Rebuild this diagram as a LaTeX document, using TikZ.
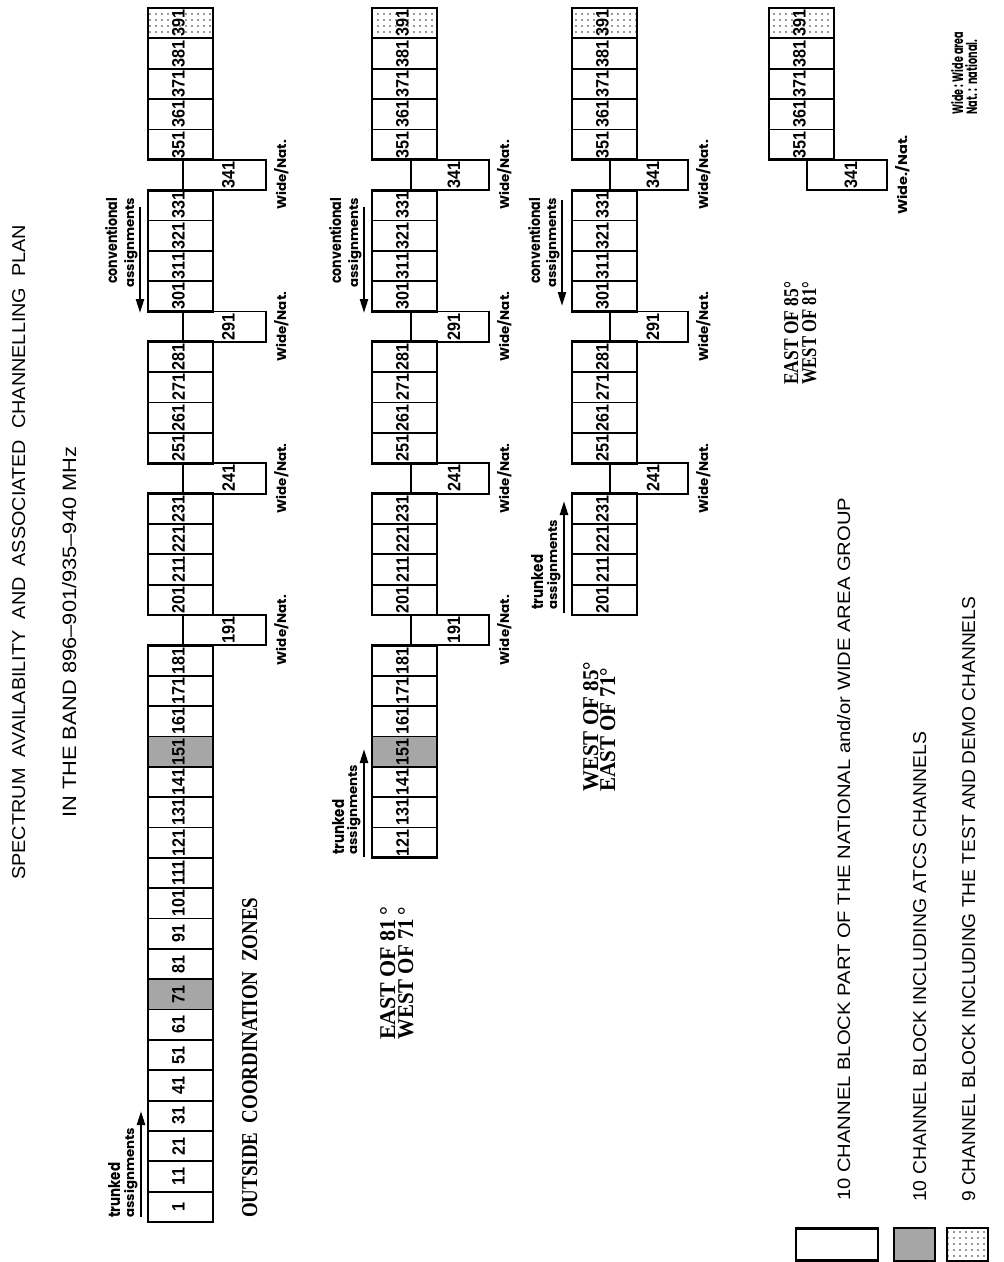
\documentclass[tikz,border=0pt]{standalone}
\usepackage{fontspec}
\usepackage{graphicx}
\setmainfont{Liberation Serif}
\newfontfamily\sansf{Liberation Sans}
\newfontfamily\numff[FakeStretch=0.9]{Liberation Sans}
\newfontfamily\gothf{Poppins}
\usetikzlibrary{patterns.meta,arrows.meta}
\newcommand\fitto[3]{\resizebox{#1pt}{#2pt}{#3}}
\newcommand\fitw[2]{\resizebox{#1pt}{!}{#2}}
\tikzset{
 blk/.style={draw, line width=1.8pt, inner sep=0, outer sep=0, minimum height=30.35pt},
 plain/.style={},
 atcs/.style={fill=black!35},
 demo/.style={pattern={Dots[distance=6pt,radius=0.8pt]}, pattern color=black!80},
 grp/.style={line width=2.8pt},
 num/.style={rotate=90, inner sep=0, font=\numff\bfseries\fontsize{18}{18}\selectfont},
 wn/.style={rotate=90, inner sep=0, anchor=base, font=\gothf\bfseries\fontsize{14}{14}\selectfont},
 lab/.style={rotate=90, inner sep=0, anchor=base west},
 glab/.style={lab, font=\gothf\bfseries\fontsize{14}{14}\selectfont},
 arr/.style={line width=2.4pt, -{Triangle[length=14pt,width=8pt]}},
 leg/.style={draw, line width=2.2pt, inner sep=0},
}
\newcommand\rowblocks[8]{%
 \foreach \k in {#5}{%
   \pgfmathsetmacro\yc{1222-\k*30.35-15.175}%
   \pgfmathtruncatemacro\ch{10*\k+1}%
   \def\st{plain}%
   \ifnum\k=7 \def\st{atcs}\fi
   \ifnum\k=15 \def\st{atcs}\fi
   \ifnum\k=39 \def\st{demo}\fi
   \node[blk,\st,minimum width=65pt] (#1b\ch) at ({#2+32.5},\yc) {};
   \node[num] (#1n\ch) at ({#2+30.5},\yc) {\ch};
 }%
 \foreach \k in {#6}{%
   \pgfmathsetmacro\yc{1222-\k*30.35-15.175}%
   \pgfmathtruncatemacro\ch{10*\k+1}%
   \node[blk,minimum width=#4pt] (#1b\ch) at ({#3+#4/2},\yc) {};
   \node[num] (#1n\ch) at ({#3+#4/2+4},\yc) {\ch};
   \node[wn] (#1w\ch) at ({#3+#4+20},\yc) {\fitto{#8}{12}{#7}};
 }%
}
\begin{document}
\begin{tikzpicture}[x=1pt,y=-1pt]
\useasboundingbox (0,0) rectangle (1004,1262);

% titles
\node[lab,font=\sansf] (t1) at (25,880) {\fitto{655}{13}{SPECTRUM\ \ AVAILABILITY\ \ AND\ \ ASSOCIATED\ \ CHANNELLING\ \ PLAN}};
\node[lab,font=\sansf] (t2) at (76,818) {\fitto{371}{14}{IN\ THE\ BAND\ 896–901/935–940\ MHz}};

% row 1
\rowblocks{r1}{148}{183}{83}{0,1,2,3,4,5,6,7,8,9,10,11,12,13,14,15,16,17,18,20,21,22,23,25,26,27,28,30,31,32,33,35,36,37,38,39}{19,24,29,34}{Wide/Nat.}{70}
\draw[grp] (r1b1.south west) rectangle (r1b181.north east);
\draw[grp] (r1b201.south west) rectangle (r1b231.north east);
\draw[grp] (r1b251.south west) rectangle (r1b281.north east);
\draw[grp] (r1b301.south west) rectangle (r1b331.north east);
\draw[grp] (r1b351.south west) rectangle (r1b391.north east);
\node[lab,font=\bfseries] (r1lab) at (257,1218) {\fitto{320}{15}{OUTSIDE\ \ COORDINATION\ \ ZONES}};
% trunked row 1
\node[glab] (r1tt) at (120,1218) {\fitto{55}{12}{trunked}};
\node[glab] (r1ta) at (134,1218) {\fitto{90}{10}{assignments}};
\coordinate (r1tA) at (141,1217);
\coordinate (r1tB) at (141,1111);
\draw[arr] (r1tA) -- (r1tB);
% conventional row 1
\node[glab] (r1ct) at (117,284) {\fitto{86}{12}{conventional}};
\node[glab] (r1ca) at (134,288) {\fitto{90}{10}{assignments}};
\coordinate (r1cA) at (140,207);
\coordinate (r1cB) at (140,313);
\draw[arr] (r1cA) -- (r1cB);

% row 2
\rowblocks{r2}{372}{411}{78}{12,13,14,15,16,17,18,20,21,22,23,25,26,27,28,30,31,32,33,35,36,37,38,39}{19,24,29,34}{Wide/Nat.}{70}
\draw[grp] (r2b121.south west) rectangle (r2b181.north east);
\draw[grp] (r2b201.south west) rectangle (r2b231.north east);
\draw[grp] (r2b251.south west) rectangle (r2b281.north east);
\draw[grp] (r2b301.south west) rectangle (r2b331.north east);
\draw[grp] (r2b351.south west) rectangle (r2b391.north east);
\node[lab,font=\bfseries] (r2l1) at (395,1040) {\fitto{133}{15}{EAST OF 81\,°}};
\node[lab,font=\bfseries] (r2l2) at (413,1040) {\fitto{133}{15}{WEST OF 71\,°}};
\node[glab] (r2tt) at (344,855) {\fitto{55}{12}{trunked}};
\node[glab] (r2ta) at (357,855) {\fitto{90}{10}{assignments}};
\coordinate (r2tA) at (364,857);
\coordinate (r2tB) at (364,749);
\draw[arr] (r2tA) -- (r2tB);
\node[glab] (r2ct) at (341,284) {\fitto{86}{12}{conventional}};
\node[glab] (r2ca) at (358,288) {\fitto{90}{10}{assignments}};
\coordinate (r2cA) at (364,207);
\coordinate (r2cB) at (364,313);
\draw[arr] (r2cA) -- (r2cB);

% row 3
\rowblocks{r3}{572}{610}{78}{20,21,22,23,25,26,27,28,30,31,32,33,35,36,37,38,39}{24,29,34}{Wide/Nat.}{70}
\draw[grp] (r3b201.south west) rectangle (r3b231.north east);
\draw[grp] (r3b251.south west) rectangle (r3b281.north east);
\draw[grp] (r3b301.south west) rectangle (r3b331.north east);
\draw[grp] (r3b351.south west) rectangle (r3b391.north east);
\node[lab,font=\bfseries] (r3l1) at (598,792) {\fitto{130}{15}{WEST OF 85°}};
\node[lab,font=\bfseries] (r3l2) at (615,792) {\fitto{124}{15}{EAST OF 71°}};
\node[glab] (r3tt) at (543,610) {\fitto{55}{12}{trunked}};
\node[glab] (r3ta) at (557,610) {\fitto{90}{10}{assignments}};
\coordinate (r3tA) at (564,613);
\coordinate (r3tB) at (564,501);
\draw[arr] (r3tA) -- (r3tB);
\node[glab] (r3ct) at (540,284) {\fitto{86}{12}{conventional}};
\node[glab] (r3ca) at (556,288) {\fitto{90}{10}{assignments}};
\coordinate (r3cA) at (562,200);
\coordinate (r3cB) at (562,306);
\draw[arr] (r3cA) -- (r3cB);

% row 4
\rowblocks{r4}{769}{807}{80}{35,36,37,38,39}{34}{Wide./Nat.}{80}
\draw[grp] (r4b351.south west) rectangle (r4b391.north east);
\node[lab,font=\bfseries] (r4l1) at (798,385) {\fitto{103}{14}{EAST OF 85°}};
\node[lab,font=\bfseries] (r4l2) at (816,385) {\fitto{103}{14}{WEST OF 81°}};

% note
\node[glab] (nw) at (963,115) {\fitto{83}{12}{Wide : Wide area}};
\node[glab] (nn) at (977,115) {\fitto{75}{12}{Nat. :\ \ national.}};

% legend
\node[leg, minimum width=82pt, minimum height=32pt] (lg1) at (837,1244.5) {};
\node[leg, atcs, minimum width=41pt, minimum height=33pt] (lg2) at (914.5,1244.5) {};
\node[leg, demo, minimum width=41pt, minimum height=33pt] (lg3) at (967.5,1244.5) {};
\node[lab,font=\sansf] (lt1) at (850,1201) {\fitto{703}{13}{10\ CHANNEL\ BLOCK\ PART\ OF\ THE\ NATIONAL\ and/or\ WIDE\ AREA\ GROUP}};
\node[lab,font=\sansf] (lt2) at (926,1202) {\fitto{470}{13}{10\ CHANNEL\ BLOCK\ INCLUDING\ ATCS\ CHANNELS}};
\node[lab,font=\sansf] (lt3) at (975,1202) {\fitto{605}{13}{9\ CHANNEL\ BLOCK\ INCLUDING\ THE\ TEST\ AND\ DEMO\ CHANNELS}};
\end{tikzpicture}
\end{document}
